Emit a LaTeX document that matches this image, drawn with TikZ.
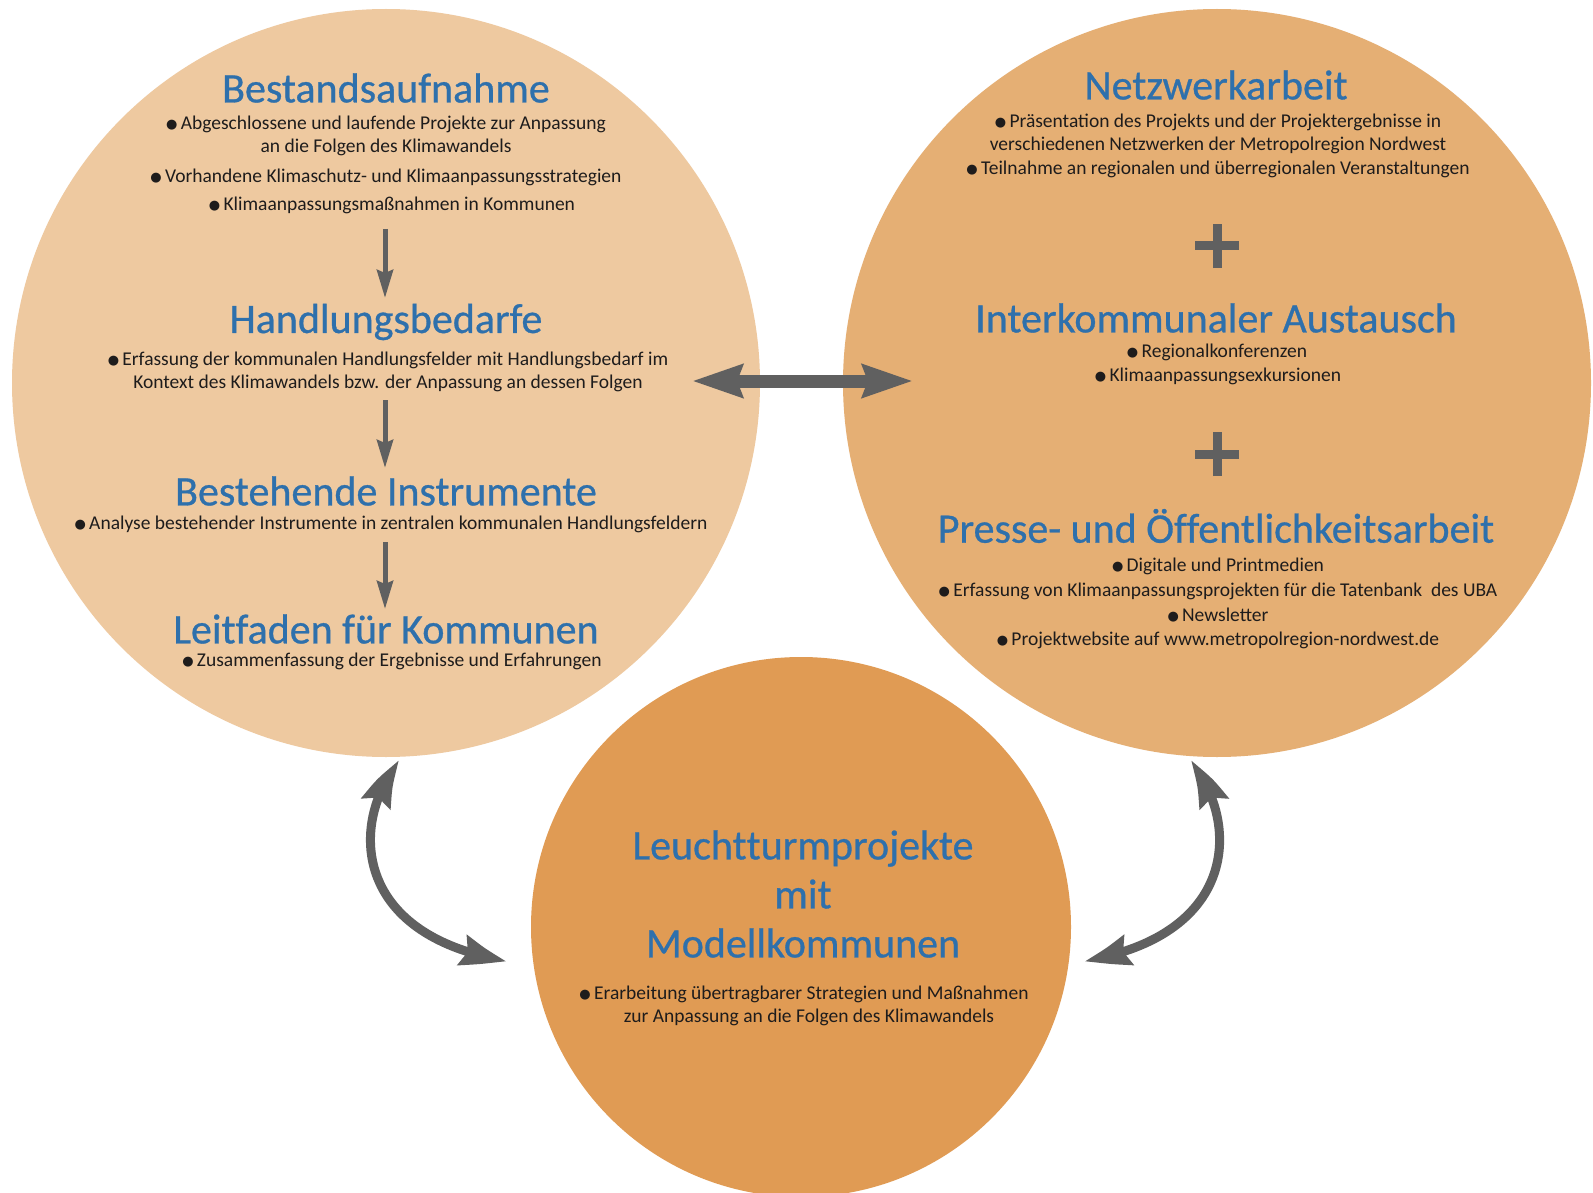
\documentclass[tikz,border=0pt]{standalone}
\usepackage{fontspec}
\setmainfont{Carlito}
\newfontfamily\titlefont[FakeBold=0.7,Ligatures=NoCommon]{Carlito}
\newfontfamily\symfont{DejaVu Sans}
\usetikzlibrary{arrows.meta,bending}
\definecolor{leftfill}{RGB}{238,201,160}
\definecolor{rightfill}{RGB}{229,175,116}
\definecolor{botfill}{RGB}{224,155,84}
\definecolor{titleblue}{RGB}{46,112,172}
\definecolor{arrowgray}{RGB}{96,96,96}
\definecolor{bodytext}{RGB}{30,28,28}
\newcommand\bul{\raisebox{0.5pt}{\symfont\fontsize{13}{13}\selectfont ●}\,}
\newcommand\nolig{\kern0pt{}}
\begin{document}
\begin{tikzpicture}[x=1pt,y=-1pt,
  ttl/.style={text=titleblue, font=\titlefont\fontsize{42}{49}\selectfont, inner sep=0pt, align=center},
  txt/.style={text=bodytext, font=\fontsize{19.5}{23.5}\selectfont, inner sep=0pt, align=center},
  blob/.style={circle, inner sep=0pt, draw=none},
  flow/.style={draw=arrowgray, line width=5pt, -{Stealth[length=28pt, width=16pt, inset=3pt]}},
  big/.style={draw=arrowgray, line width=13pt, {Stealth[length=50pt, width=32pt, inset=5pt]}-{Stealth[length=50pt, width=32pt, inset=5pt]}},
  curvy/.style={draw=arrowgray, line width=9pt, {Stealth[length=48pt, width=30pt, inset=6pt, bend]}-{Stealth[length=48pt, width=30pt, inset=6pt, bend]}},
  plusbar/.style={draw=arrowgray, line width=9pt}
]
\useasboundingbox[fill=white] (0,0) rectangle (1593,1193);

% circles
\node[blob, fill=leftfill, minimum size=748pt] (cL) at (386,383) {};
\node[blob, fill=rightfill, minimum size=748pt] (cR) at (1217,383) {};
\node[blob, fill=botfill, minimum size=540pt] (cB) at (801,927) {};

% left circle
\node[ttl] (tA) at (386,88) {Bestandsaufnahme};
\node[txt] (tA1) at (386,136) {\bul Abgeschlossene und laufende Projekte zur Anpassung\\an die Folgen des Klimawandels};
\node[txt] (tA2) at (386,177) {\bul Vorhandene Klimaschutz- und Klimaanpassungsstrategien};
\node[txt] (tA3) at (392,205) {\bul Klimaanpassungsmaßnahmen in Kommunen};
\node[ttl] (tB) at (386,322) {Handlungsbedarfe};
\node[txt] (tB1) at (388,372) {\bul Erfassung der kommunalen Handlungsfelder mit Handlungsbedarf im\\Kontext des Klimawandels bzw. der Anpassung an dessen Folgen};
\node[ttl] (tC) at (386,491) {Bestehende Instrumente};
\node[txt] (tC1) at (391,524) {\bul Analyse bestehender Instrumente in zentralen kommunalen Handlungsfeldern};
\node[ttl] (tD) at (386,629) {Leit\nolig faden für Kommunen};
\node[txt] (tD1) at (392,661) {\bul Zusammenfassung der Ergebnisse und Erfahrungen};

\coordinate (a1s) at (385,229); \coordinate (a1e) at (385,298);
\coordinate (a2s) at (385,400); \coordinate (a2e) at (385,468);
\coordinate (a3s) at (385,542); \coordinate (a3e) at (385,609);
\draw[flow] (a1s) -- (a1e);
\draw[flow] (a2s) -- (a2e);
\draw[flow] (a3s) -- (a3e);

% right circle
\node[ttl] (tE) at (1216,85) {Netzwerkarbeit};
\node[txt] (tE1) at (1218,134) {\bul Präsentation des Projekts und der Projektergebnisse in\\verschiedenen Netzwerken der Metropolregion Nordwest};
\node[txt] (tE2) at (1218,169) {\bul Teilnahme an regionalen und überregionalen Veranstaltungen};
\coordinate (p1) at (1217,246);
\draw[plusbar] ([xshift=-22pt]p1) -- ([xshift=22pt]p1);
\draw[plusbar] ([yshift=-22pt]p1) -- ([yshift=22pt]p1);
\node[ttl] (tF) at (1216,318) {Interkommunaler Austausch};
\node[txt] (tF1) at (1217,352) {\bul Regionalkonferenzen};
\node[txt] (tF2) at (1218,376) {\bul Klimaanpassungsexkursionen};
\coordinate (p2) at (1217,454);
\draw[plusbar] ([xshift=-22pt]p2) -- ([xshift=22pt]p2);
\draw[plusbar] ([yshift=-22pt]p2) -- ([yshift=22pt]p2);
\node[ttl] (tG) at (1216,526) {Presse- und Öffentlichkeitsarbeit};
\node[txt] (tG1) at (1218,566) {\bul Digitale und Printmedien};
\node[txt] (tG2) at (1218,591) {\bul Erfassung von Klimaanpassungsprojekten für die Tatenbank\ \ des UBA};
\node[txt] (tG3) at (1218,615) {\bul Newsletter};
\node[txt] (tG4) at (1218,640) {\bul Projektwebsite auf www.metropolregion-nordwest.de};

% bottom circle
\node[ttl] (tH) at (803,894) {Leucht\nolig t\nolig urmprojekte\\mit\\Modellkommunen};
\node[txt] (tH1) at (804,1006) {\bul Erarbeitung übertragbarer Strategien und Maßnahmen\\\hspace*{10pt}zur Anpassung an die Folgen des Klimawandels};

% connectors
\coordinate (hL) at (692,381);
\coordinate (hR) at (913,381);
\draw[big] (hL) -- (hR);

\coordinate (lT) at (400,761);
\coordinate (lB) at (507,961);
\draw[curvy] (lT) .. controls (350,820) and (350,935) .. (lB);
\coordinate (rT) at (1190,761);
\coordinate (rB) at (1084,961);
\draw[curvy] (rT) .. controls (1240,820) and (1240,935) .. (rB);
\end{tikzpicture}
\end{document}
